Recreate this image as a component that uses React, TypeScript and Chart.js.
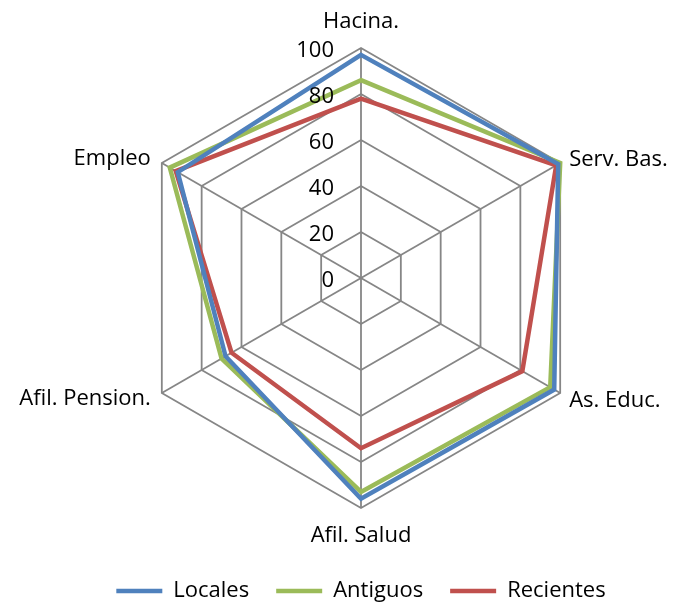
import React, { useEffect, useRef } from 'react';
import { Chart, registerables } from 'chart.js';

Chart.register(...registerables);

const categories = ['Hacina.', 'Serv. Bas.', 'As. Educ.', 'Afil. Salud', 'Afil. Pension.', 'Empleo'];
const locales = [97, 99, 97, 96, 68, 92];
const antiguos = [86, 100, 95, 93, 70, 96];
const recientes = [78, 98, 81, 74, 65, 93];
const tickValues = [0, 20, 40, 60, 80, 100];

const FONT = '"Open Sans", "DejaVu Sans", sans-serif';

const labelPlugin = {
  id: 'customRadarLabels',
  afterDraw(chart: any) {
    const scale = chart.scales.r;
    const ctx = chart.ctx;
    ctx.save();
    ctx.font = `22px ${FONT}`;
    ctx.fillStyle = '#000000';
    ctx.textBaseline = 'alphabetic';
    // tick labels
    ctx.textAlign = 'right';
    tickValues.forEach((v) => {
      const p = scale.getPointPositionForValue(0, v);
      ctx.fillText(String(v), p.x - 27, p.y + 9);
    });
    // point labels
    categories.forEach((lab, i) => {
      const p = scale.getPointPositionForValue(i, scale.max);
      const a = scale.getIndexAngle(i);
      const sx = Math.sin(a);
      const cy = -Math.cos(a);
      if (Math.abs(sx) < 0.1) {
        ctx.textAlign = 'center';
        ctx.fillText(lab, p.x, cy < 0 ? p.y - 20 : p.y + 34);
      } else if (sx > 0) {
        ctx.textAlign = 'left';
        ctx.fillText(lab, p.x + 9, cy < 0 ? p.y + 3 : p.y + 13.5);
      } else {
        ctx.textAlign = 'right';
        ctx.fillText(lab, p.x - 11, cy < 0 ? p.y + 1.5 : p.y + 11.5);
      }
    });
    ctx.restore();
  },
};

export default function App() {
  const ref = useRef<HTMLCanvasElement>(null);
  useEffect(() => {
    if (!ref.current) return;
    const mk = (label: string, data: number[], color: string) => ({
      label,
      data,
      borderColor: color,
      backgroundColor: color,
      borderWidth: 4.5,
      fill: false,
      pointRadius: 0,
      pointHoverRadius: 0,
      tension: 0,
      borderJoinStyle: 'miter' as const,
    });
    const chart = new Chart(ref.current, {
      type: 'radar',
      data: {
        labels: categories,
        datasets: [
          mk('Locales', locales, '#4F81BD'),
          mk('Antiguos', antiguos, '#9BBB59'),
          mk('Recientes', recientes, '#C0504D'),
        ],
      },
      options: {
        responsive: false,
        animation: false,
        layout: { padding: { left: 45, right: 0, top: 48, bottom: 0 } },
        scales: {
          r: {
            min: 0,
            max: 100,
            ticks: { stepSize: 20, display: false },
            pointLabels: { display: false },
            grid: { color: '#868686', lineWidth: 1.8 },
            angleLines: { color: '#868686', lineWidth: 1.8 },
          },
        },
        plugins: {
          tooltip: { enabled: false },
          legend: {
            position: 'bottom',
            title: { display: true, text: '', font: { size: 10, lineHeight: 1 }, padding: { top: 0, bottom: 34 } },
            labels: {
              usePointStyle: true,
              pointStyle: 'line',
              pointStyleWidth: 46,
              boxWidth: 46,
              padding: 27,
              color: '#000000',
              font: { size: 22, family: FONT },
            },
          },
        },
      },
      plugins: [labelPlugin],
    });
    return () => chart.destroy();
  }, []);
  return (
    <canvas
      ref={ref}
      width={677}
      height={612}
      style={{ position: 'fixed', left: 0, top: 0, display: 'block' }}
    />
  );
}
